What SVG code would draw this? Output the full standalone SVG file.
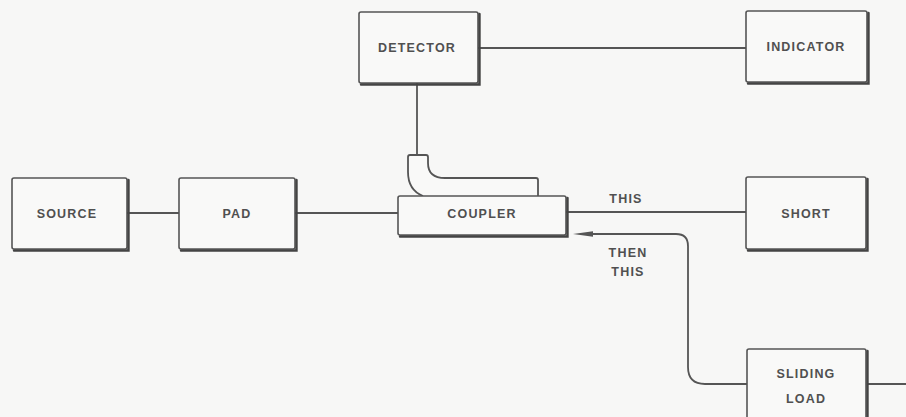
<svg xmlns="http://www.w3.org/2000/svg" width="906" height="417" viewBox="0 0 906 417">
<style>
.bx{fill:#f9f9f8;stroke:#555;stroke-width:1.6}
.sh{fill:none;stroke:#444;stroke-width:2.4;stroke-linecap:round}
.ln{fill:none;stroke:#555;stroke-width:1.8}
.t{font-family:"Liberation Sans",Arial,sans-serif;font-weight:bold;font-size:12.5px;letter-spacing:1.2px;fill:#505050;text-anchor:middle}
</style>
<rect width="906" height="417" fill="#f7f7f6"/>
<g id="connectors">
<line class="ln" x1="478" y1="48" x2="746" y2="48"/>
<line class="ln" x1="127" y1="213" x2="179" y2="213"/>
<line class="ln" x1="295" y1="213" x2="398" y2="213"/>
<line class="ln" x1="417" y1="83" x2="417" y2="155"/>
<line class="ln" x1="566" y1="212" x2="746" y2="212"/>
<path class="ln" d="M590,234 L676,234 Q688,234 688,246 L688,367 Q688,384 705,384 L747,384"/>
<polygon points="573,234 593,231.3 593,236.7" fill="#555"/>
<line class="ln" x1="867" y1="384" x2="906" y2="384"/>
</g>
<g id="bend">
<path d="M423,196 Q408,190 408,172 L408,157 Q408,155 410,155 L426,155 Q428,155 428,157 L428,163 Q428,178 445,178 L536,178 Q538,178 538,180 L538,196" fill="#f9f9f8" stroke="#555" stroke-width="1.8"/>
</g>
<g id="detector">
<rect class="bx" x="359" y="12" width="119" height="71" rx="2"/>
<polyline class="sh" points="479.5,14 479.5,84.5 361,84.5"/>
<text class="t" x="417" y="51.5">DETECTOR</text>
</g>
<g id="indicator">
<rect class="bx" x="746" y="11" width="121" height="71" rx="2"/>
<polyline class="sh" points="868.5,13 868.5,83.5 748,83.5"/>
<text class="t" x="806" y="50.5">INDICATOR</text>
</g>
<g id="source">
<rect class="bx" x="12" y="178" width="115" height="71" rx="2"/>
<polyline class="sh" points="128.5,180 128.5,250.5 14,250.5"/>
<text class="t" x="67" y="217.5">SOURCE</text>
</g>
<g id="pad">
<rect class="bx" x="179" y="178" width="116" height="71" rx="2"/>
<polyline class="sh" points="296.5,180 296.5,250.5 181,250.5"/>
<text class="t" x="237" y="217.5">PAD</text>
</g>
<g id="coupler">
<rect class="bx" x="398" y="196" width="168" height="39" rx="2"/>
<polyline class="sh" points="567.5,198 567.5,236.5 400,236.5"/>
<text class="t" x="482" y="217.5">COUPLER</text>
</g>
<g id="short">
<rect class="bx" x="746" y="177" width="120" height="72" rx="2"/>
<polyline class="sh" points="867.5,179 867.5,250.5 748,250.5"/>
<text class="t" x="806" y="217.5">SHORT</text>
</g>
<g id="sliding-load">
<rect class="bx" x="747" y="349" width="119" height="76" rx="2"/>
<polyline class="sh" points="867.5,351 867.5,420"/>
<text class="t" x="806" y="377.5">SLIDING</text>
<text class="t" x="806" y="402.5">LOAD</text>
</g>
<g id="labels">
<text class="t" x="626" y="203">THIS</text>
<text class="t" x="628" y="256.5">THEN</text>
<text class="t" x="628" y="275.5">THIS</text>
</g>
</svg>
